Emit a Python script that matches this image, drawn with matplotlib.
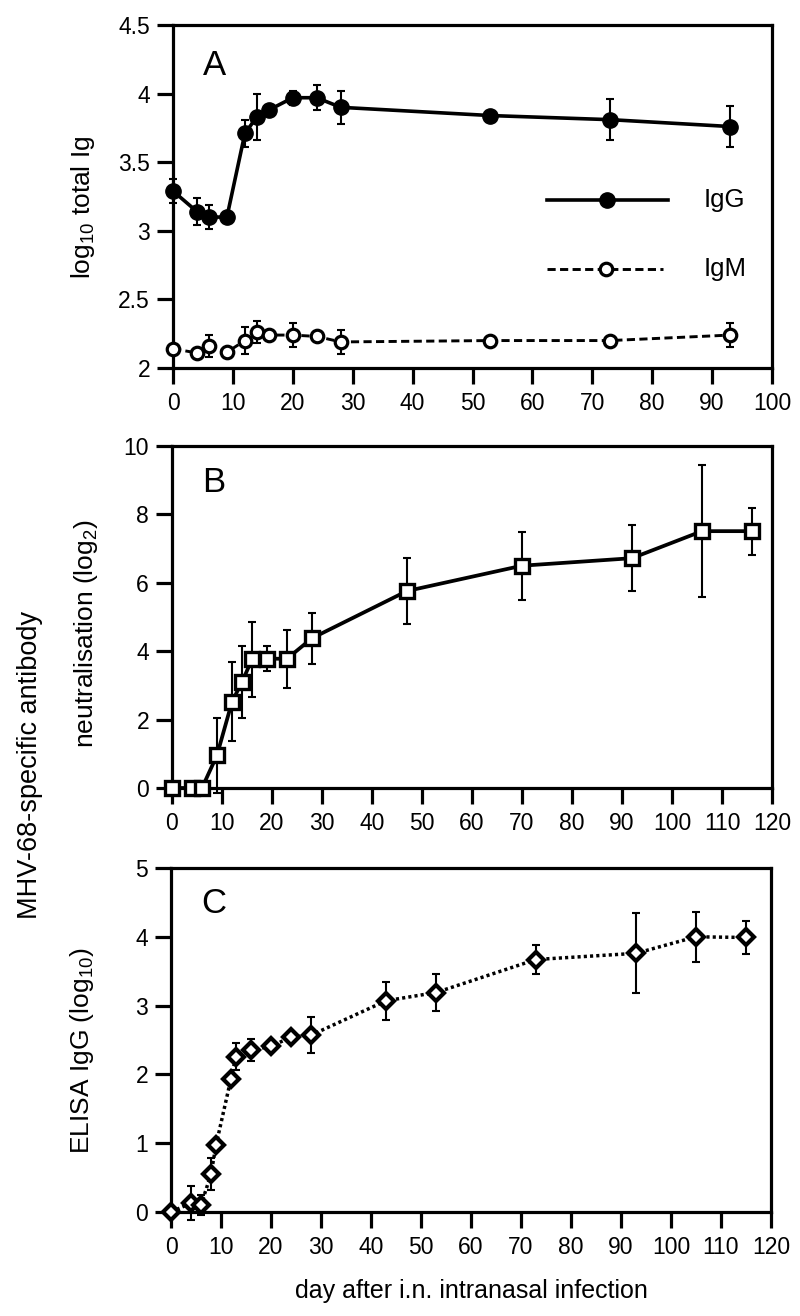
import matplotlib
matplotlib.use("Agg")
import matplotlib.pyplot as plt
from matplotlib.lines import Line2D

plt.rcParams['font.family'] = ['Liberation Sans', 'DejaVu Sans']
plt.rcParams['mathtext.fontset'] = 'custom'
plt.rcParams['mathtext.rm'] = 'Liberation Sans'
plt.rcParams['mathtext.it'] = 'Liberation Sans:italic'
plt.rcParams['mathtext.default'] = 'regular'

# ---- Panel A: total Ig ----
a_days = [0, 4, 6, 9, 12, 14, 16, 20, 24, 28, 53, 73, 93]
a_igg = [3.29, 3.14, 3.10, 3.10, 3.71, 3.83, 3.88, 3.97, 3.97, 3.90, 3.84, 3.81, 3.76]
a_igg_err = [0.09, 0.10, 0.09, 0.0, 0.10, 0.17, 0.0, 0.05, 0.09, 0.12, 0.0, 0.15, 0.15]
a_igm = [2.14, 2.11, 2.16, 2.115, 2.20, 2.26, 2.24, 2.24, 2.23, 2.19, 2.20, 2.20, 2.24]
a_igm_err = [0.0, 0.0, 0.08, 0.0, 0.10, 0.08, 0.0, 0.09, 0.0, 0.09, 0.0, 0.0, 0.09]

# ---- Panel B: neutralisation ----
b_days = [0, 4, 6, 9, 12, 14, 16, 19, 23, 28, 47, 70, 92, 106, 116]
b_vals = [0, 0, 0, 0.96, 2.52, 3.10, 3.76, 3.78, 3.78, 4.38, 5.76, 6.50, 6.72, 7.51, 7.51]
b_err = [0, 0, 0, 1.10, 1.15, 1.05, 1.10, 0.37, 0.85, 0.75, 0.97, 1.00, 0.96, 1.92, 0.69]

# ---- Panel C: ELISA IgG ----
c_days = [0, 4, 6, 8, 9, 12, 13, 16, 20, 24, 28, 43, 53, 73, 93, 105, 115]
c_vals = [0, 0.13, 0.10, 0.55, 0.97, 1.94, 2.26, 2.35, 2.41, 2.54, 2.57, 3.07, 3.19, 3.67, 3.76, 4.00, 3.99]
c_err = [0, 0.25, 0.15, 0.23, 0, 0, 0.19, 0.16, 0, 0, 0.26, 0.28, 0.27, 0.21, 0.58, 0.36, 0.24]

a_xticks = list(range(0, 101, 10))
bc_xticks = list(range(0, 121, 10))
a_yticks = [2, 2.5, 3, 3.5, 4, 4.5]
a_yticklabels = ['2', '2.5', '3', '3.5', '4', '4.5']
b_yticks = [0, 2, 4, 6, 8, 10]
c_yticks = [0, 1, 2, 3, 4, 5]

TICK_FS = 16.5
LABEL_FS = 19
SPINE_W = 2.3

fig = plt.figure(figsize=(8, 13.16), dpi=100)
axA = fig.add_axes([173 / 800, 1 - 368 / 1316, 599 / 800, 343 / 1316])
axB = fig.add_axes([172 / 800, 1 - 788 / 1316, 600 / 800, 342 / 1316])
axC = fig.add_axes([171 / 800, 1 - 1212 / 1316, 600 / 800, 344 / 1316])


def style(ax):
    for s in ax.spines.values():
        s.set_linewidth(SPINE_W)
    ax.tick_params(axis='both', direction='out', length=11.5, width=SPINE_W,
                   labelsize=TICK_FS, top=False, right=False)
    ax.tick_params(axis='x', pad=6)
    ax.tick_params(axis='y', pad=5)


eb_kw = dict(ecolor='black', elinewidth=1.5, capsize=3, capthick=1.5, clip_on=False)

# Panel A
style(axA)
axA.errorbar(a_days, a_igg, yerr=a_igg_err, fmt='none', zorder=3, **eb_kw)
axA.plot(a_days, a_igg, color='black', lw=2.6, marker='o', ms=11,
         mfc='black', mec='black', clip_on=False, zorder=4)
axA.errorbar(a_days, a_igm, yerr=a_igm_err, fmt='none', zorder=3, **eb_kw)
axA.plot(a_days, a_igm, color='black', lw=2.1, ls=(0, (2.8, 1.5)), marker='o', ms=9,
         mfc='white', mec='black', mew=2.3, clip_on=False, zorder=4)
axA.set_xlim(0, 100)
axA.set_ylim(2, 4.5)
axA.set_xticks(a_xticks)
axA.set_yticks(a_yticks)
axA.set_yticklabels(a_yticklabels)
axA.set_ylabel('log$_{10}$ total Ig', fontsize=LABEL_FS)
axA.yaxis.set_label_coords(-0.127, 0.47)
axA.text(0.05, 0.855, 'A', transform=axA.transAxes, fontsize=25, va='baseline')

# manual legend (axes coordinates)
axA.add_line(Line2D([0.624, 0.826], [0.49, 0.49], transform=axA.transAxes,
                    color='black', lw=2.6))
axA.add_line(Line2D([0.7245], [0.49], transform=axA.transAxes, color='black',
                    marker='o', ms=11, mfc='black', mec='black'))
axA.text(0.886, 0.49, 'IgG', transform=axA.transAxes, fontsize=18.5, va='center')
axA.add_line(Line2D([0.624, 0.818], [0.289, 0.289], transform=axA.transAxes,
                    color='black', lw=2.1, ls=(0, (2.8, 1.5))))
axA.add_line(Line2D([0.723], [0.289], transform=axA.transAxes, color='black',
                    marker='o', ms=9, mfc='white', mec='black', mew=2.3))
axA.text(0.886, 0.289, 'IgM', transform=axA.transAxes, fontsize=18.5, va='center')

# Panel B
style(axB)
axB.errorbar(b_days, b_vals, yerr=b_err, fmt='none', zorder=3, **eb_kw)
axB.plot(b_days, b_vals, color='black', lw=2.7, marker='s', ms=10.5,
         mfc='white', mec='black', mew=2.4, clip_on=False, zorder=4)
axB.set_xlim(0, 120)
axB.set_ylim(0, 10)
axB.set_xticks(bc_xticks)
axB.set_yticks(b_yticks)
axB.set_ylabel('neutralisation (log$_2$)', fontsize=LABEL_FS)
axB.yaxis.set_label_coords(-0.12, 0.45)
axB.text(0.05, 0.866, 'B', transform=axB.transAxes, fontsize=25, va='baseline')

# Panel C
style(axC)
axC.errorbar(c_days, c_vals, yerr=c_err, fmt='none', zorder=3, **eb_kw)
axC.plot(c_days, c_vals, color='black', lw=2.5, ls=(0, (0.9, 0.9)), marker='D', ms=8.5,
         mfc='white', mec='black', mew=3.0, clip_on=False, zorder=4)
axC.set_xlim(0, 120)
axC.set_ylim(0, 5)
axC.set_xticks(bc_xticks)
axC.set_yticks(c_yticks)
axC.set_ylabel('ELISA IgG (log$_{10}$)', fontsize=LABEL_FS)
axC.yaxis.set_label_coords(-0.125, 0.47)
axC.text(0.05, 0.869, 'C', transform=axC.transAxes, fontsize=25, va='baseline')
axC.set_xlabel('day after i.n. intranasal infection', fontsize=18, labelpad=14)

fig.text(30 / 800, 1 - 765 / 1316, 'MHV-68-specific antibody', rotation=90,
         fontsize=19.5, ha='center', va='center')

fig.savefig('out.png', dpi=100)
